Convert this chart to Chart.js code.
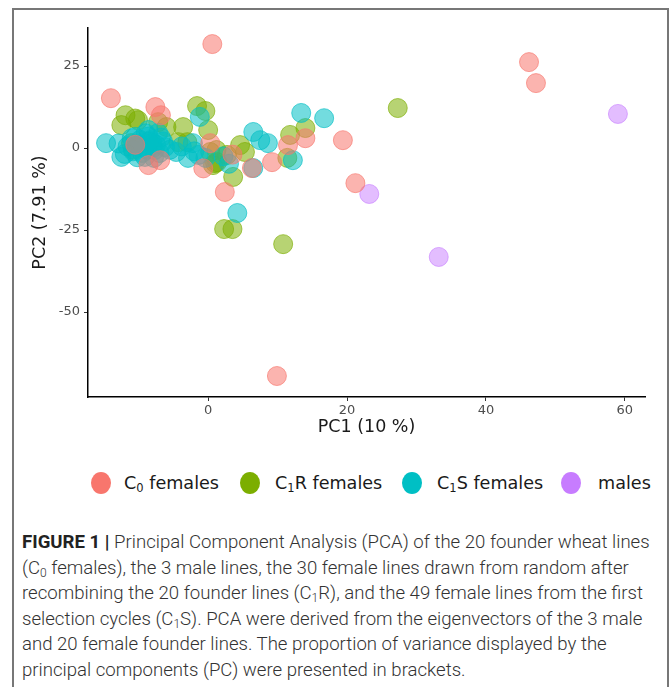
<!DOCTYPE html>
<html><head><meta charset="utf-8">
<script src="https://cdn.jsdelivr.net/npm/chart.js@4.4.1/dist/chart.umd.min.js"></script>
<style>
html,body{margin:0;padding:0;background:#fff;width:669px;height:687px;overflow:hidden;}
#frame{position:absolute;left:12px;top:8px;width:653px;height:700px;border:2px solid #777;border-bottom:none;}
#wrap{position:absolute;left:0;top:0;width:669px;height:440px;}
.leg{position:absolute;top:472px;height:22px;font-family:"DejaVu Sans";font-size:17.6px;color:#1a1a1a;line-height:22px;white-space:nowrap;}
.leg sub{font-size:11.5px;vertical-align:-3px;line-height:0;}
.dot{position:absolute;width:20px;height:22px;border-radius:50%;top:472px;}
#cap{position:absolute;left:22px;top:530px;font-family:Roboto,"Liberation Sans",sans-serif;font-weight:300;font-size:18.6px;line-height:25.5px;color:#333;white-space:nowrap;}
#cap b{font-weight:700;color:#222;}
#cap sub{font-size:12px;vertical-align:-3px;line-height:0;}
</style></head>
<body>
<div id="frame"></div>
<div id="wrap"><canvas id="c" width="669" height="440"></canvas></div>
<div id="legend"></div>
<div id="cap"><b>FIGURE 1 |</b> Principal Component Analysis (PCA) of the 20 founder wheat lines<br>(C<sub>0</sub> females), the 3 male lines, the 30 female lines drawn from random after<br>recombining the 20 founder lines (C<sub>1</sub>R), and the 49 female lines from the first<br>selection cycles (C<sub>1</sub>S). PCA were derived from the eigenvectors of the 3 male<br>and 20 female founder lines. The proportion of variance displayed by the<br>principal components (PC) were presented in brackets.</div>
<script>
// ---- data (PC1, PC2) ----
const c0Females = [
  [0.6,31.7],[46.2,26.2],[47.2,19.8],[-14.0,15.2],[-7.6,12.5],[-6.8,10.0],
  [19.4,2.4],[21.2,-10.7],[9.9,-69.5],[-8.6,-5.2],[-6.9,-3.7],[-0.7,-6.2],
  [0.3,1.5],[6.3,-6.1],[9.2,-4.3],[11.5,0.9],[14.0,3.0],[2.4,-13.4],
  [-10.5,1.0],[3.5,-2.0]
];
const c1RFemales = [
  [-1.6,12.8],[-0.4,11.3],[0.0,5.5],[27.3,12.2],[10.8,-29.3],[2.3,-24.7],
  [3.5,-24.7],[3.6,-8.8],[-11.9,10.0],[-10.5,9.0],[-12.5,7.0],[-11.1,1.5],
  [-10.1,8.5],[-7.2,7.9],[-6.0,6.4],[-3.6,6.4],[-4.3,1.8],[1.2,-0.6],
  [1.0,-4.6],[-3.0,1.8],[0.3,-1.2],[1.3,-4.3],[2.7,-2.1],[4.6,0.9],
  [5.3,-1.2],[11.8,4.0],[14.0,6.1],[11.4,-3.0],[0.7,-5.2],[-10.8,-0.5]
];
const c1SFemales = [
  [13.4,10.7],[16.7,9.1],[4.2,-19.8],[-14.7,1.5],[-12.5,-2.7],[-12.9,1.4],
  [-8.3,2.4],[-9.2,0.3],[-7.7,-0.6],[-9.1,-2.7],[-7.2,4.6],[-8.6,5.5],
  [-10.5,3.4],[-6.2,0.3],[-4.6,-1.2],[-2.9,-3.0],[-2.2,1.5],[-1.4,-2.1],
  [-0.4,-3.0],[-1.2,9.5],[6.5,4.9],[7.5,2.4],[8.6,1.5],[6.5,-6.1],
  [12.2,-3.7],[-11.6,0.5],[-10.0,1.0],[-8.0,1.5],[-9.5,-1.5],[-7.0,-1.5],
  [-8.6,3.5],[-6.5,2.0],[-10.8,-1.0],[-7.8,-3.0],[-9.0,4.5],[-8.0,0.0],
  [-9.8,2.5],[-6.8,3.2],[-11.0,3.0],[-7.5,1.0],[-8.8,-0.5],[-3.8,0.5],
  [2.2,-2.5],[-5.5,-0.5],[-10.2,-2.8],[3.0,-4.8],[-2.0,-1.0],[-8.5,2.0],
  [-12.0,-1.8]
];
const males = [[59.0,10.4],[23.2,-14.0],[33.2,-33.2]];

const xTicks = [0,20,40,60];
const yTicks = [-50,-25,0,25];
const xLabel = 'PC1 (10 %)';
const yLabel = 'PC2 (7.91 %)';
const legendNames = ['C<sub>0</sub> females','C<sub>1</sub>R females','C<sub>1</sub>S females','males'];
const legendColors = ['#F8766D','#7CAE00','#00BFC4','#C77CFF'];

// ---- legend (HTML) ----
const dotX = [101,249.5,411.5,571];
const textX = [124,275,437,598];
const lg = document.getElementById('legend');
legendNames.forEach((n,i)=>{
  const d=document.createElement('div');d.className='dot';d.style.left=(dotX[i]-10)+'px';d.style.background=legendColors[i];lg.appendChild(d);
  const t=document.createElement('div');t.className='leg';t.style.left=textX[i]+'px';t.innerHTML=n;lg.appendChild(t);
});

const toPts = a => a.map(p=>({x:p[0],y:p[1]}));
function ds(label,pts,r,g,b,a){
  return {label,data:toPts(pts),pointRadius:9.5,pointHoverRadius:9.5,
    backgroundColor:`rgba(${r},${g},${b},${a})`,borderColor:`rgba(${r},${g},${b},${Math.min(1,a+0.1)})`,borderWidth:1};
}
new Chart(document.getElementById('c'),{
  type:'scatter',
  data:{datasets:[
    ds('C0 females',c0Females,248,118,109,0.55),
    ds('C1S females',c1SFemales,0,191,196,0.55),
    ds('C1R females',c1RFemales,124,174,0,0.55),
    ds('males',males,199,124,255,0.5)
  ]},
  options:{
    responsive:false,animation:false,devicePixelRatio:1,
    layout:{padding:{left:0,top:28,right:24,bottom:2}},
    plugins:{legend:{display:false},tooltip:{enabled:false}},
    scales:{
      x:{type:'linear',position:'bottom',min:-17.3,max:62.9,
        afterBuildTicks:s=>{s.ticks=xTicks.map(v=>({value:v}));},
        afterFit:s=>{s.height=41;},
        grid:{drawOnChartArea:false,drawTicks:true,tickLength:4,color:'#333',lineWidth:1},
        border:{display:true,color:'#000',width:1.5},
        ticks:{padding:2,color:'#4d4d4d',font:{family:'DejaVu Sans',size:13},maxRotation:0,autoSkip:false},
        title:{display:true,text:xLabel,color:'#1a1a1a',font:{family:'DejaVu Sans',size:17.5},padding:{top:0,bottom:0}}
      },
      y:{type:'linear',position:'left',min:-75.9,max:36.6,
        afterBuildTicks:s=>{s.ticks=yTicks.map(v=>({value:v}));},
        afterFit:s=>{s.width=88;},
        grid:{drawOnChartArea:false,drawTicks:true,tickLength:4,color:'#333',lineWidth:1},
        border:{display:true,color:'#000',width:1.5},
        ticks:{padding:4,color:'#4d4d4d',font:{family:'DejaVu Sans',size:13},autoSkip:false},
        title:{display:true,text:yLabel,color:'#1a1a1a',font:{family:'DejaVu Sans',size:17.5},padding:{top:30,bottom:0}}
      }
    }
  }
});
</script>
</body></html>
